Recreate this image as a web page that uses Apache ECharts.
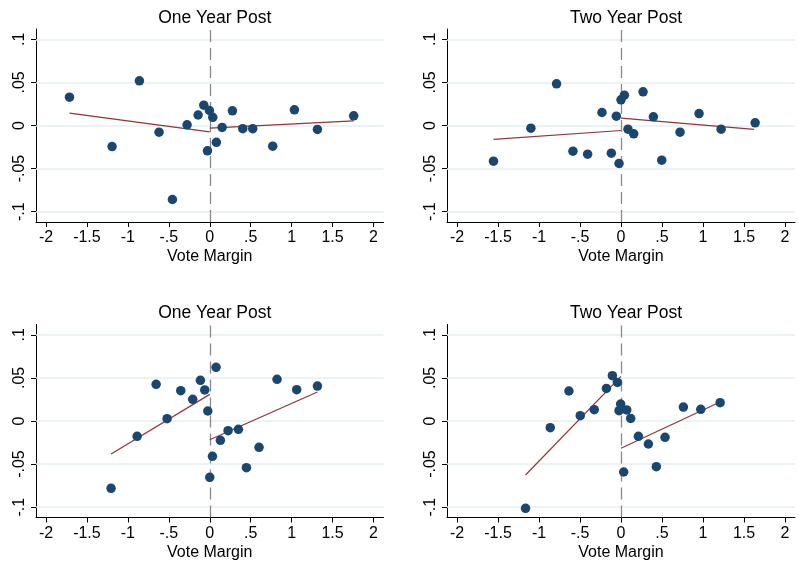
<!DOCTYPE html>
<html>
<head>
<meta charset="utf-8">
<script src="https://cdn.jsdelivr.net/npm/echarts@6/dist/echarts.min.js"></script>
<style>
  html, body { margin: 0; padding: 0; background: #fff; }
  #chart { width: 799px; height: 567px; }
</style>
</head>
<body>
<div id="chart"></div>
<script>
// tick values and labels (stata style)
var xTicks = [-2, -1.5, -1, -0.5, 0, 0.5, 1, 1.5, 2];
var xTickLabels = ["-2", "-1.5", "-1", "-.5", "0", ".5", "1", "1.5", "2"];
var yTicks = [-0.1, -0.05, 0, 0.05, 0.1];
var yTickLabels = ["-.1", "-.05", "0", ".05", ".1"];

var titles = ["One Year Post", "Two Year Post", "One Year Post", "Two Year Post"];

// panel 1
var p1X = [-1.713,-1.193,-0.859,-0.619,-0.456,-0.277,-0.142,-0.073,-0.028,-0.004,0.037,0.081,0.151,0.277,0.403,0.525,0.769,1.034,1.315,1.758];
var p1Y = [0.0329,-0.0244,0.0518,-0.0077,-0.0859,0.0008,0.0122,0.0236,-0.0294,0.0174,0.0095,-0.0195,-0.0022,0.0170,-0.0037,-0.0037,-0.0240,0.0182,-0.0046,0.0112];
var p1FitL = [[-1.713, 0.0143], [0, -0.0073]];
var p1FitR = [[0, -0.0031], [1.758, 0.0054]];

// panel 2
var p2X = [-1.555,-1.099,-0.786,-0.586,-0.407,-0.232,-0.118,-0.057,-0.024,0.000,0.041,0.085,0.155,0.269,0.395,0.497,0.720,0.952,1.221,1.636];
var p2Y = [-0.0414,-0.0031,0.0484,-0.0298,-0.0333,0.0151,-0.0321,0.0108,-0.0441,0.0298,0.0352,-0.0043,-0.0097,0.0391,0.0101,-0.0402,-0.0077,0.0139,-0.0043,0.0031];
var p2FitL = [[-1.555, -0.0162], [0, -0.0058]];
var p2FitR = [[0, 0.0085], [1.624, -0.0046]];

// panel 3
var p3X = [-1.205,-0.887,-0.655,-0.521,-0.354,-0.208,-0.114,-0.061,-0.024,0.000,0.033,0.077,0.130,0.224,0.350,0.448,0.602,0.822,1.062,1.315];
var p3Y = [-0.0781,-0.0178,0.0426,0.0027,0.0352,0.0251,0.0472,0.0360,0.0116,-0.0654,-0.0410,0.0623,-0.0224,-0.0112,-0.0097,-0.0542,-0.0306,0.0484,0.0364,0.0406];
var p3FitL = [[-1.205, -0.0383], [0, 0.0309]];
var p3FitR = [[0, -0.0217], [1.315, 0.0337]];

// panel 4
var p4X = [-1.164,-0.863,-0.635,-0.497,-0.326,-0.178,-0.105,-0.044,-0.024,-0.004,0.033,0.070,0.118,0.212,0.334,0.431,0.537,0.761,0.973,1.209];
var p4Y = [-0.1014,-0.0077,0.0348,0.0062,0.0132,0.0378,0.0526,0.0448,0.0120,0.0197,-0.0592,0.0128,0.0030,-0.0178,-0.0267,-0.0530,-0.0190,0.0162,0.0135,0.0213];
var p4FitL = [[-1.164, -0.0627], [0, 0.0518]];
var p4FitR = [[0, -0.0317], [1.209, 0.0220]];

var panels = [
  { x: p1X, y: p1Y, fitL: p1FitL, fitR: p1FitR },
  { x: p2X, y: p2Y, fitL: p2FitL, fitR: p2FitR },
  { x: p3X, y: p3Y, fitL: p3FitL, fitR: p3FitR },
  { x: p4X, y: p4Y, fitL: p4FitL, fitR: p4FitR }
];

var font = "'Liberation Sans', Arial, sans-serif";
var dotColor = "#1a476f";
var fitColor = "#90353b";

var gridPos = [
  { left: 36, top: 29, width: 347.5, height: 193 },
  { left: 447, top: 29, width: 348, height: 193 },
  { left: 36, top: 324.5, width: 347.5, height: 193 },
  { left: 447, top: 324.5, width: 348, height: 193 }
];

var grid = [], xAxis = [], yAxis = [], title = [], series = [];

for (var i = 0; i < 4; i++) {
  var g = gridPos[i];
  grid.push({ left: g.left, top: g.top, width: g.width, height: g.height, outerBoundsMode: "none" });

  title.push({
    text: titles[i],
    left: g.left + g.width / 2,
    top: g.top - 25,
    textAlign: "center",
    textStyle: { fontFamily: font, fontSize: 17.5, fontWeight: "normal", color: "#000" }
  });

  xAxis.push({
    type: "value",
    gridIndex: i,
    min: -2.122,
    max: 2.122,
    name: "Vote Margin",
    nameLocation: "middle",
    nameGap: 27,
    nameTextStyle: { fontFamily: font, fontSize: 16, color: "#000" },
    axisLine: { show: true, onZero: false, lineStyle: { color: "#000", width: 1 } },
    axisTick: { show: true, length: 5, customValues: xTicks, lineStyle: { color: "#000" } },
    axisLabel: {
      margin: 8,
      customValues: xTicks,
      fontFamily: font, fontSize: 16, color: "#000",
      formatter: function (v) {
        for (var k = 0; k < xTicks.length; k++) {
          if (Math.abs(xTicks[k] - v) < 1e-6) return xTickLabels[k];
        }
        return "";
      }
    },
    splitLine: { show: false }
  });

  yAxis.push({
    type: "value",
    gridIndex: i,
    min: -0.112,
    max: 0.112,
    axisLine: { show: true, onZero: false, lineStyle: { color: "#000", width: 1 } },
    axisTick: { show: true, length: 5, customValues: yTicks, lineStyle: { color: "#000" } },
    axisLabel: {
      margin: 8,
      rotate: 90,
      customValues: yTicks,
      fontFamily: font, fontSize: 16, color: "#000",
      formatter: function (v) {
        for (var k = 0; k < yTicks.length; k++) {
          if (Math.abs(yTicks[k] - v) < 1e-6) return yTickLabels[k];
        }
        return "";
      }
    },
    splitLine: { show: false }
  });

  var p = panels[i];
  var pts = [];
  for (var j = 0; j < p.x.length; j++) {
    pts.push([p.x[j], p.y[j]]);
  }

  // horizontal grid lines + dashed cutoff line
  var hLines = [];
  for (var k = 0; k < yTicks.length; k++) {
    hLines.push({ yAxis: yTicks[k], lineStyle: { color: "#e6eff1", width: 1.5, type: "solid" } });
  }
  hLines.push({ xAxis: 0, lineStyle: { color: "#8a8a8a", width: 1.3, type: [12, 6] } });

  series.push({
    type: "line",
    xAxisIndex: i,
    yAxisIndex: i,
    data: p.fitL,
    symbol: "none",
    silent: true,
    z: 2,
    lineStyle: { color: fitColor, width: 1.2 },
    markLine: {
      silent: true,
      symbol: "none",
      z: 1,
      label: { show: false },
      animation: false,
      data: hLines
    }
  });
  series.push({
    type: "line",
    xAxisIndex: i,
    yAxisIndex: i,
    data: p.fitR,
    symbol: "none",
    silent: true,
    z: 3,
    lineStyle: { color: fitColor, width: 1.2 }
  });
  series.push({
    type: "scatter",
    xAxisIndex: i,
    yAxisIndex: i,
    data: pts,
    symbolSize: 9.5,
    z: 4,
    itemStyle: { color: dotColor, opacity: 1, borderWidth: 0 }
  });
}

var myChart = echarts.init(document.getElementById("chart"));
myChart.setOption({
  animation: false,
  backgroundColor: "#fff",
  title: title,
  grid: grid,
  xAxis: xAxis,
  yAxis: yAxis,
  series: series
});
</script>
</body>
</html>
